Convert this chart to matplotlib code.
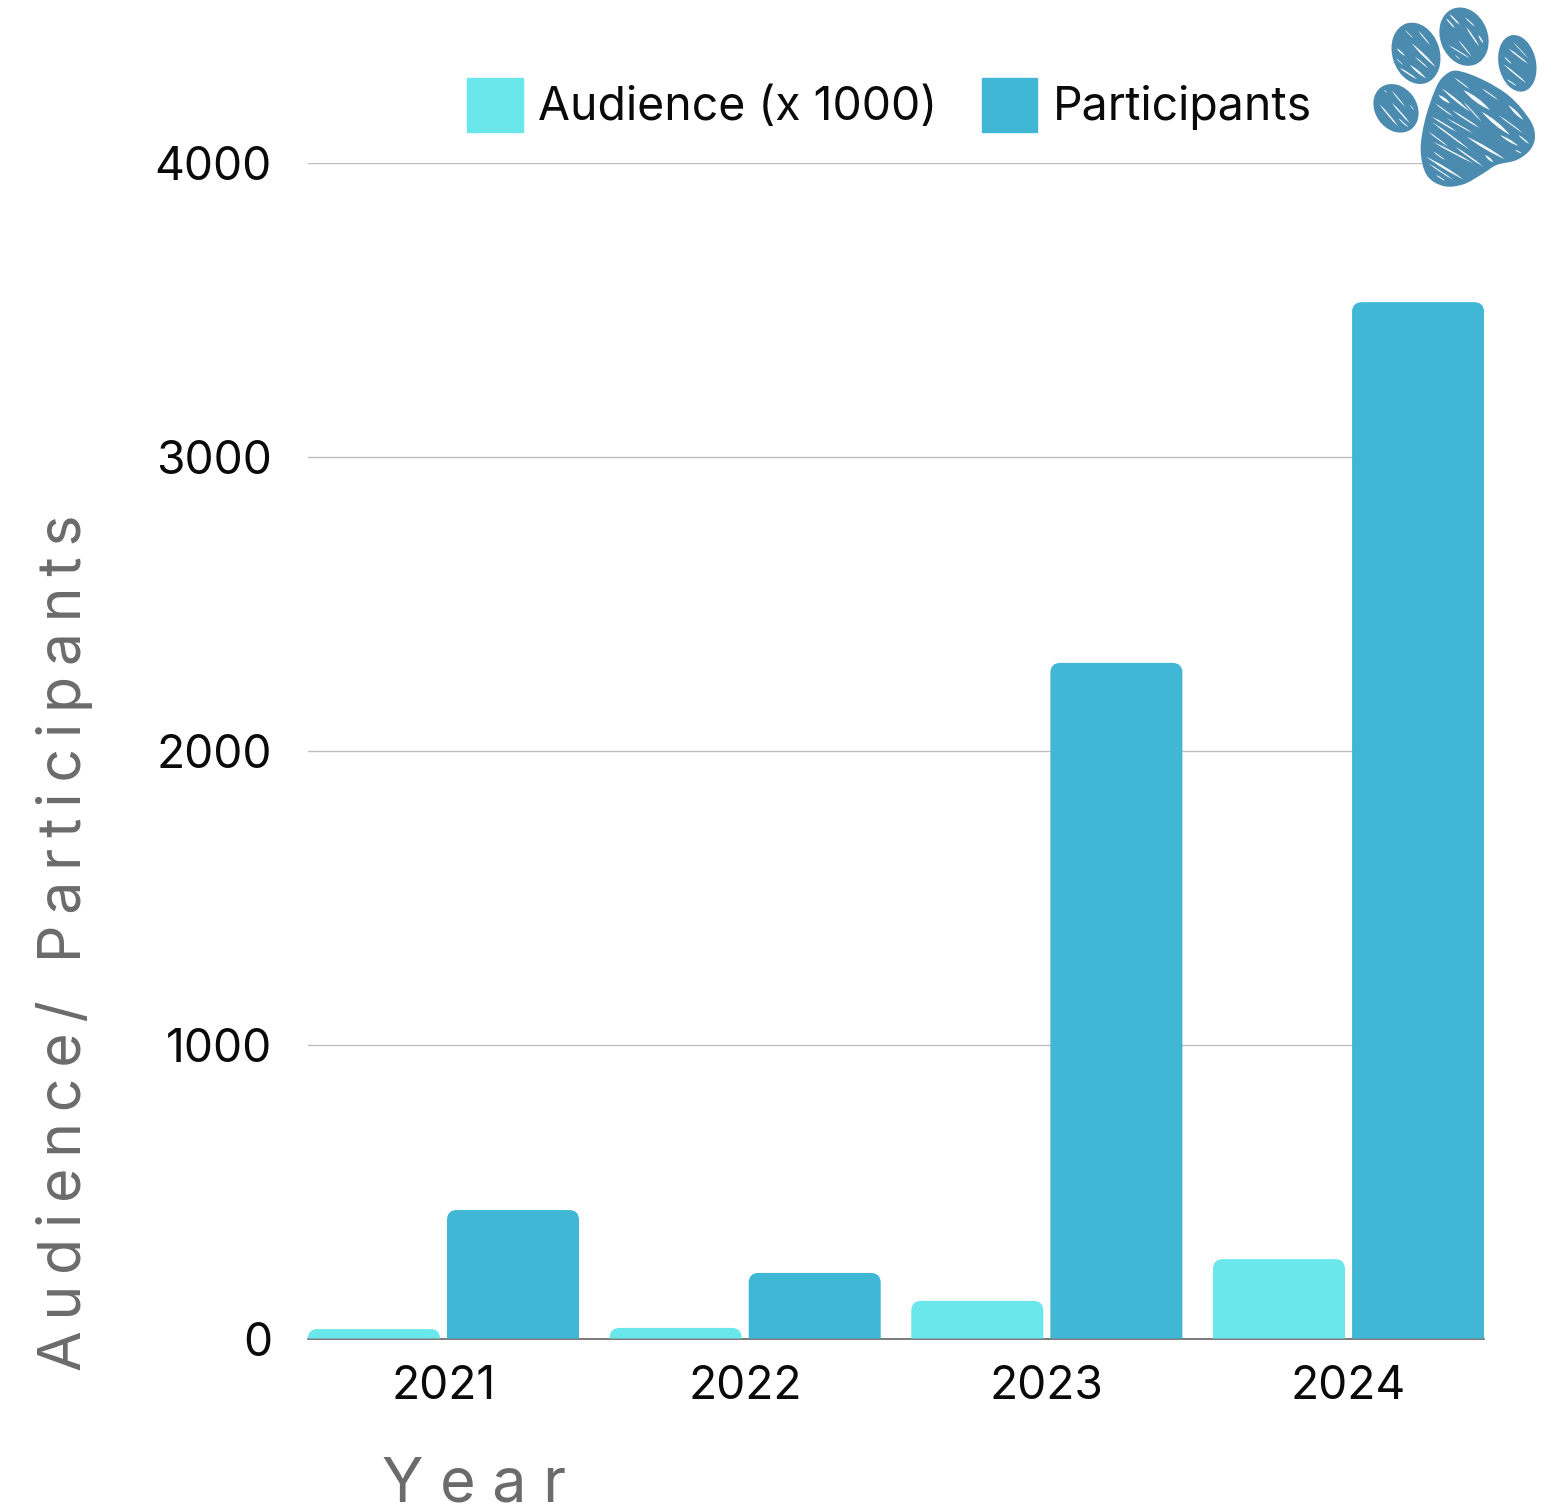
import numpy as np
import matplotlib
matplotlib.use("Agg")
import matplotlib.pyplot as plt
from matplotlib.path import Path
from matplotlib.patches import PathPatch, Patch, Ellipse

plt.rcParams['font.family'] = ['Inter', 'DejaVu Sans']

years = ['2021', '2022', '2023', '2024']
audience = [32, 36, 128, 270]
participants = [437, 223, 2298, 3525]
yticks = [0, 1000, 2000, 3000, 4000]
series_names = ['Audience (x 1000)', 'Participants']
ylabel = 'Audience/ Participants'
xlabel = 'Year'

W, H = 1557, 1507
LIGHT, DARK, PAW = '#6AE7EA', '#41B7D6', '#4A8BAF'
fig = plt.figure(figsize=(W / 100, H / 100), dpi=100, facecolor='white')
L, R, T, B = 308, 1484, 162.5, 1338.5
ax = fig.add_axes([L / W, 1 - B / H, (R - L) / W, (B - T) / H])
ax.set_xlim(-0.449, 3.449)
ax.set_ylim(0, 4000)
for s in ax.spines.values():
    s.set_visible(False)
ax.spines['bottom'].set_visible(True)
ax.spines['bottom'].set_color('#666666')
ax.spines['bottom'].set_linewidth(1.2)
ax.set_yticks(yticks)
ax.set_xticks(range(len(years)), years)
ax.tick_params(length=0, labelsize=33.3, labelcolor='#0a0a0a')
ax.tick_params(axis='x', pad=19)
ax.tick_params(axis='y', pad=26)
ax.grid(axis='y', color='#bebebe', linewidth=1.0)
ax.set_axisbelow(True)

px_x = (ax.get_xlim()[1] - ax.get_xlim()[0]) / (R - L)
px_y = 4000 / (B - T)


def rounded_bar(x0, w, h, color):
    r = min(10, h / px_y)
    rx, ry = r * px_x, r * px_y
    x1 = x0 + w
    verts = [(x0, 0), (x0, h - ry), (x0, h), (x0 + rx, h), (x1 - rx, h), (x1, h), (x1, h - ry), (x1, 0), (x0, 0)]
    codes = [Path.MOVETO, Path.LINETO, Path.CURVE3, Path.CURVE3, Path.LINETO, Path.CURVE3, Path.CURVE3,
             Path.LINETO, Path.CLOSEPOLY]
    ax.add_patch(PathPatch(Path(verts, codes), facecolor=color, edgecolor='none', zorder=3))


bw, off = 0.4377, 0.2305
for i, (a, p) in enumerate(zip(audience, participants)):
    rounded_bar(i - off - bw / 2, bw, a, LIGHT)
    rounded_bar(i + off - bw / 2, bw, p, DARK)

handles = [Patch(color=LIGHT), Patch(color=DARK)]
leg = fig.legend(handles, series_names, loc='lower left', bbox_to_anchor=(467 / W, 1 - 131.5 / H),
                 bbox_transform=fig.transFigure, ncol=2, frameon=False, fontsize=33.4, borderpad=0, borderaxespad=0,
                 handlelength=1.2, handleheight=1.4, handletextpad=0.34, columnspacing=0.95, labelcolor='#0a0a0a')

THIN = '\u2009'
HAIR = '\u200a'
fig.text(65 / W, 1 - 943 / H, THIN.join(ylabel), rotation=90, ha='center', va='center', fontsize=42.5, color='#6b6b6b')
fig.text(474 / W, 1 - 1486 / H, (THIN + HAIR).join(xlabel), ha='center', va='center', fontsize=44, color='#6b6b6b')

# Paw decoration, in pixel coordinates of the picture
ov = fig.add_axes([0, 0, 1, 1], facecolor='none', zorder=5)
ov.set_xlim(0, W)
ov.set_ylim(H, 0)
ov.axis('off')


def z(p):
    return (1360 + p[0] / 3, p[1] / 3)


pad = [(290, 212), (370, 240), (450, 290), (510, 360), (525, 410), (510, 450), (470, 480), (410, 495), (370, 520),
       (310, 553), (250, 558), (200, 525), (182, 450), (195, 360), (225, 270), (250, 230)]
pts = np.array([z(p) for p in pad])
n = len(pts)
v, c = [pts[0]], [Path.MOVETO]
for i in range(n):
    p0, p1, p2, p3 = pts[i - 1], pts[i], pts[(i + 1) % n], pts[(i + 2) % n]
    v += [p1 + (p2 - p0) / 6, p2 - (p3 - p1) / 6, p2]
    c += [Path.CURVE4] * 3
ov.add_patch(PathPatch(Path(v, c), facecolor=PAW, edgecolor='none'))

for (cx, cy, w, h, ang) in [(168, 160, 142, 188, -18), (312, 110, 142, 180, -22), (472, 190, 112, 172, -12),
                            (108, 325, 125, 155, -35)]:
    x, y = z((cx, cy))
    ov.add_patch(Ellipse((x, y), w / 3, h / 3, angle=ang, facecolor=PAW, edgecolor='none'))

strokes = [((282, 232), (330, 268), 3), ((245, 265), (330, 335), 5), ((235, 285), (270, 310), 6),
           ((310, 270), (390, 330), 9), ((365, 265), (415, 300), 3), ((225, 310), (280, 350), 3),
           ((310, 305), (365, 365), 3), ((275, 330), (360, 385), 4), ((365, 335), (450, 405), 8),
           ((445, 315), (490, 360), 6), ((415, 345), (490, 400), 3), ((215, 350), (290, 395), 4),
           ((260, 355), (340, 400), 3), ((215, 365), (330, 450), 4), ((205, 395), (265, 440), 3),
           ((320, 410), (435, 478), 6), ((420, 405), (475, 438), 5), ((475, 405), (508, 432), 4),
           ((218, 425), (340, 490), 4), ((285, 440), (370, 500), 4), ((375, 465), (400, 487), 5),
           ((220, 455), (255, 480), 3), ((198, 470), (310, 538), 5), ((205, 490), (280, 540), 3),
           ((465, 450), (485, 460), 3), ((228, 525), (255, 542), 3),
           ((135, 90), (160, 115), 2), ((175, 92), (210, 135), 3), ((110, 145), (135, 168), 4),
           ((155, 130), (228, 202), 5), ((165, 170), (205, 205), 3), ((118, 203), (172, 238), 4),
           ((150, 195), (198, 235), 5), ((108, 175), (130, 195), 2),
           ((258, 55), (285, 85), 4), ((268, 42), (300, 75), 4), ((315, 52), (345, 80), 3),
           ((318, 80), (358, 140), 4), ((355, 105), (370, 130), 4), ((295, 120), (335, 170), 3),
           ((265, 135), (330, 175), 3), ((285, 165), (300, 178), 2),
           ((458, 125), (505, 175), 2), ((445, 145), (505, 192), 4), ((432, 170), (455, 192), 3),
           ((430, 192), (500, 250), 4), ((440, 238), (470, 258), 3),
           ((95, 272), (135, 320), 3), ((58, 312), (115, 380), 4), ((95, 308), (150, 370), 4),
           ((115, 355), (145, 382), 3), ((150, 315), (162, 330), 2), ((72, 270), (82, 278), 2)]
for a, b, t in strokes:
    a, b = np.array(z(a)), np.array(z(b))
    d = b - a
    nrm = np.array([-d[1], d[0]]) / np.hypot(*d) * t / 3 * 1.4
    mid = (a + b) / 2
    ov.add_patch(PathPatch(Path([a, mid + nrm, b, mid - nrm, a],
                                [Path.MOVETO, Path.CURVE3, Path.CURVE3, Path.CURVE3, Path.CURVE3]),
                           facecolor='white', edgecolor='none', alpha=0.95))

fig.savefig('out.png', dpi=100, facecolor='white')
